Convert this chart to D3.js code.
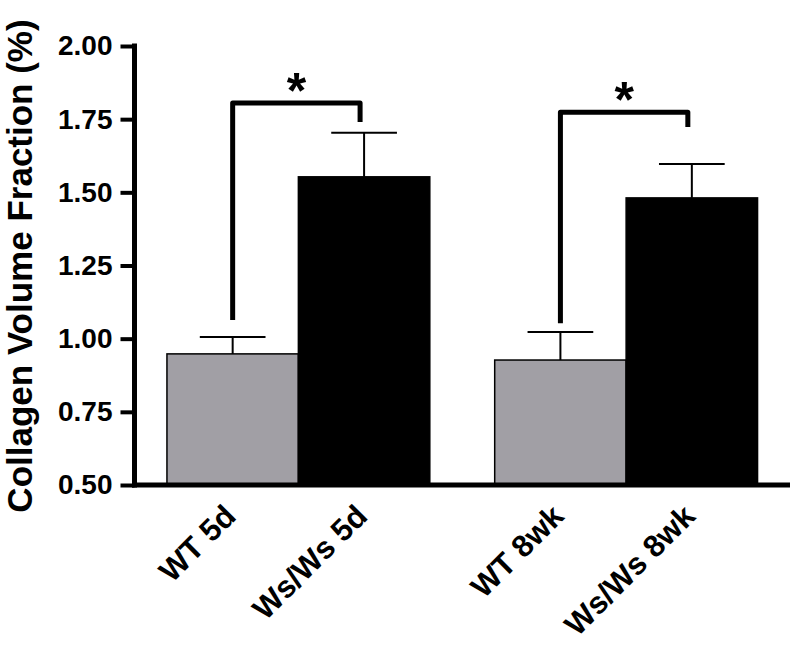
<!DOCTYPE html>
<html>
<head>
<meta charset="utf-8">
<script src="https://cdn.jsdelivr.net/npm/d3@7"></script>
<style>
  body { margin: 0; background: #fff; }
  text { font-family: "Liberation Sans", Arial, sans-serif; font-weight: bold; fill: #000; }
</style>
</head>
<body>
<svg id="chart" width="800" height="650"></svg>
<script>
'use strict';

// groups and the two genotypes within each group
var groups = ['5d', '8wk'];
var genotypes = ['WT', 'Ws/Ws'];
var barLabels = ['WT 5d', 'Ws/Ws 5d', 'WT 8wk', 'Ws/Ws 8wk'];

// mean and SEM, in the order of barLabels
var means = [0.948, 1.553, 0.927, 1.481];
var errors = [0.058, 0.151, 0.096, 0.116];

var yTicks = [0.50, 0.75, 1.00, 1.25, 1.50, 1.75, 2.00];

// significance brackets: [left bar, right bar, top, left leg end, right leg end]
var brackets = [
  [0, 1, 1.805, 1.064, 1.740],
  [2, 3, 1.774, 1.053, 1.723]
];

var barColors = { 'WT': '#a19fa5', 'Ws/Ws': '#000000' };

var svg = d3.select('#chart');

var x0 = d3.scaleBand()
  .domain(groups)
  .range([134.5, 790])
  .paddingInner(0.198)
  .paddingOuter(0.099);

var x1 = d3.scaleBand()
  .domain(genotypes)
  .range([0, x0.bandwidth()]);

var y = d3.scaleLinear()
  .domain([0.5, 2.0])
  .range([485, 46]);

function barIndex(g, k) {
  return groups.indexOf(g) * genotypes.length + genotypes.indexOf(k);
}

function barCenter(i) {
  var g = groups[Math.floor(i / genotypes.length)];
  var k = genotypes[i % genotypes.length];
  return x0(g) + x1(k) + x1.bandwidth() / 2;
}

var bars = [];
groups.forEach(function(g) {
  genotypes.forEach(function(k) {
    var i = barIndex(g, k);
    bars.push({ group: g, geno: k, i: i, mean: means[i], err: errors[i] });
  });
});

// bars
svg.append('g')
  .selectAll('rect')
  .data(bars)
  .enter()
  .append('rect')
  .attr('x', function(d) { return x0(d.group) + x1(d.geno); })
  .attr('y', function(d) { return y(d.mean); })
  .attr('width', x1.bandwidth())
  .attr('height', function(d) { return y(0.5) - y(d.mean); })
  .attr('fill', function(d) { return barColors[d.geno]; })
  .attr('stroke', '#000')
  .attr('stroke-width', 1.5);

// error bars (upper half only)
var eb = svg.append('g')
  .attr('stroke', '#000')
  .attr('stroke-width', 2);

bars.forEach(function(d) {
  var cx = barCenter(d.i);
  var capHalf = x1.bandwidth() / 4;
  eb.append('line')
    .attr('x1', cx).attr('x2', cx)
    .attr('y1', y(d.mean)).attr('y2', y(d.mean + d.err));
  eb.append('line')
    .attr('x1', cx - capHalf).attr('x2', cx + capHalf)
    .attr('y1', y(d.mean + d.err)).attr('y2', y(d.mean + d.err));
});

// y axis
var yAxis = svg.append('g')
  .attr('transform', 'translate(134.5,0)')
  .call(d3.axisLeft(y)
    .tickValues(yTicks)
    .tickFormat(d3.format('.2f'))
    .tickSize(14)
    .tickSizeOuter(0)
    .tickPadding(8));

yAxis.select('.domain').attr('stroke-width', 5).attr('d', 'M0,43.5V487.5');
yAxis.selectAll('.tick line').attr('stroke-width', 4);
yAxis.selectAll('.tick text')
  .style('font-size', '28px')
  .attr('fill', '#000');

// x axis (line only, labels drawn per bar)
var xAxis = svg.append('g')
  .attr('transform', 'translate(0,485)')
  .call(d3.axisBottom(x0).tickSize(0).tickSizeOuter(0).tickFormat(''));
xAxis.select('.domain').attr('stroke-width', 5).attr('d', 'M132,0H790');

svg.append('g')
  .selectAll('text')
  .data(barLabels)
  .enter()
  .append('text')
  .attr('text-anchor', 'end')
  .attr('transform', function(d, i) {
    return 'translate(' + (barCenter(i) + 5) + ',518) rotate(-45)';
  })
  .style('font-size', '31px')
  .text(function(d) { return d; });

// y title
svg.append('text')
  .attr('text-anchor', 'middle')
  .attr('transform', 'translate(32,266) rotate(-90)')
  .style('font-size', '35px')
  .text('Collagen Volume Fraction (%)');

// significance brackets
var br = svg.append('g');
brackets.forEach(function(b) {
  var xl = barCenter(b[0]);
  var xr = barCenter(b[1]) - 4;
  br.append('path')
    .attr('d', 'M' + xl + ',' + y(b[3]) + 'V' + y(b[2]) + 'H' + xr + 'V' + y(b[4]))
    .attr('fill', 'none')
    .attr('stroke', '#000')
    .attr('stroke-width', 5)
    .attr('stroke-linejoin', 'round');
  br.append('text')
    .attr('text-anchor', 'middle')
    .attr('x', (xl + xr) / 2)
    .attr('y', y(b[2]) + 5)
    .style('font-size', '50px')
    .text('*');
});
</script>
</body>
</html>
